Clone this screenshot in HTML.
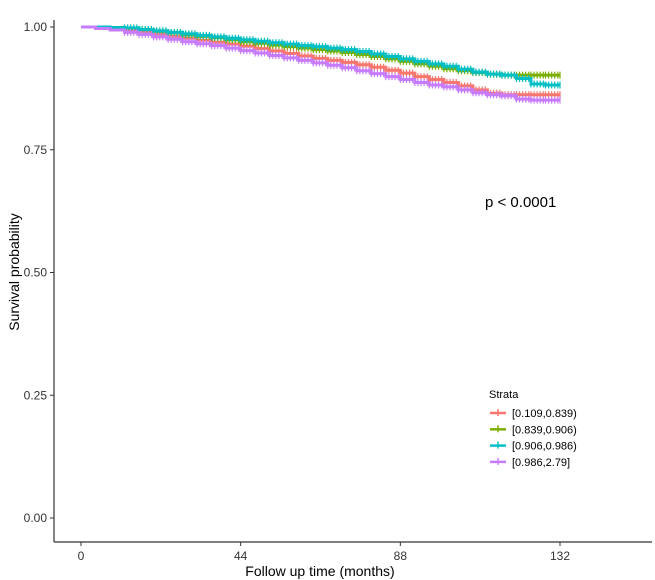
<!DOCTYPE html>
<html><head><meta charset="utf-8"><style>
body{margin:0;background:#fff;}
svg{display:block;font-family:"Liberation Sans",Arial,sans-serif;}
</style></head><body>
<svg id="chart" width="655" height="580">
<g id="axes"></g><g id="series"></g><g id="legend"></g>
</svg>
<script>
const times=[0,4,8,12,16,20,24,28,32,36,40,44,48,52,56,60,64,68,72,76,80,84,88,92,96,100,104,108,112,116,120,124,128,132];
const redVals=[1,.998,.996,.992,.989,.985,.981,.977,.973,.969,.965,.961,.956,.951,.946,.941,.936,.932,.928,.923,.918,.912,.906,.899,.893,.887,.880,.872,.865,.862,.862,.862,.862,.862];
const greenVals=[1,1,.999,.997,.994,.991,.988,.984,.981,.978,.974,.970,.967,.963,.960,.957,.954,.951,.948,.944,.940,.935,.930,.925,.920,.915,.911,.907,.904,.902,.902,.902,.902,.902];
const cyanVals=[1,1,.999,.998,.995,.992,.989,.986,.983,.980,.977,.974,.971,.968,.965,.962,.960,.957,.954,.950,.945,.940,.935,.930,.925,.920,.914,.908,.904,.902,.895,.884,.882,.882];
const purpleVals=[1,.997,.994,.989,.985,.980,.975,.970,.966,.962,.957,.952,.947,.942,.937,.932,.927,.922,.917,.911,.905,.899,.893,.887,.882,.878,.872,.866,.862,.860,.853,.851,.851,.851];
const strataLabels=["[0.109,0.839)","[0.839,0.906)","[0.906,0.986)","[0.986,2.79]"];
const xTicks=[0,44,88,132];
const yTicks=[0,0.25,0.5,0.75,1];
const yTickLabels=["0.00","0.25","0.50","0.75","1.00"];
const colors=["#F8766D","#7CAE00","#00BFC4","#C77CFF"];
const NS="http://www.w3.org/2000/svg";
const X=t=>81+t*(560-81)/132;
const Y=s=>518-s*(518-27);
function mk(tag,attrs,parent){const e=document.createElementNS(NS,tag);for(const k in attrs)e.setAttribute(k,attrs[k]);parent.appendChild(e);return e;}
const axes=document.getElementById('axes');
let l=mk('line',{x1:54,y1:20,x2:54,y2:542,stroke:'#333','stroke-width':1.2},axes);


l=mk('line',{x1:54,y1:542,x2:652,y2:542,stroke:'#333','stroke-width':1.2},axes);


yTicks.forEach((v,i)=>{
 mk('line',{x1:50,x2:54,y1:Y(v),y2:Y(v),stroke:'#333'},axes);
 const t=mk('text',{x:47,y:Y(v)+4,'text-anchor':'end','font-size':12,fill:'#333'},axes);
 t.textContent=yTickLabels[i];
 
 
});
xTicks.forEach(v=>{
 mk('line',{x1:X(v),x2:X(v),y1:542,y2:546,stroke:'#333'},axes);
 const t=mk('text',{x:X(v),y:560,'text-anchor':'middle','font-size':12,fill:'#333'},axes);
 t.textContent=v;
 
 
});
let tt=mk('text',{x:320,y:576,'text-anchor':'middle','font-size':14,fill:'#000'},axes);
tt.textContent='Follow up time (months)';


tt=mk('text',{x:0,y:0,'text-anchor':'middle','font-size':14,fill:'#000',transform:'translate(19,272) rotate(-90)'},axes);
tt.textContent='Survival probability';


tt=mk('text',{x:485,y:207,'font-size':15,fill:'#000'},axes);
tt.textContent='p < 0.0001';


const ser=document.getElementById('series');
[redVals,greenVals,cyanVals,purpleVals].forEach((vals,si)=>{
 let d=`M${X(times[0])},${Y(vals[0])}`;
 for(let i=1;i<times.length;i++){d+=`H${X(times[i])}V${Y(vals[i])}`;}
 const g=mk('g',{},ser);
 
 
 mk('path',{d:d,fill:'none',stroke:colors[si],'stroke-width':3},g);
 let cd='';
 for(let i=3;i<times.length-1;i++){
  for(let k=0;k<4;k+=0.85){const t=times[i]+k;cd+=`M${X(t)},${Y(vals[i])-3.5}v7`;}
 }
 cd+=`M${X(132)},${Y(vals[vals.length-1])-3.5}v7`;
 mk('path',{d:cd,stroke:colors[si],'stroke-width':1.2,fill:'none'},g);
});
const lg=document.getElementById('legend');
let h=mk('text',{x:489,y:398,'font-size':11,fill:'#000'},lg);
h.textContent='Strata';


strataLabels.forEach((s,i)=>{
 const y=413+i*16.3;
 const g=mk('g',{},lg);
 
 
 mk('line',{x1:490,x2:506,y1:y,y2:y,stroke:colors[i],'stroke-width':2.5},g);
 mk('line',{x1:498,x2:498,y1:y-4,y2:y+3,stroke:colors[i],'stroke-width':1.5},g);
 const t=mk('text',{x:512,y:y+4,'font-size':11,fill:'#000'},g);
 t.textContent=s;
});
</script>
</body></html>
